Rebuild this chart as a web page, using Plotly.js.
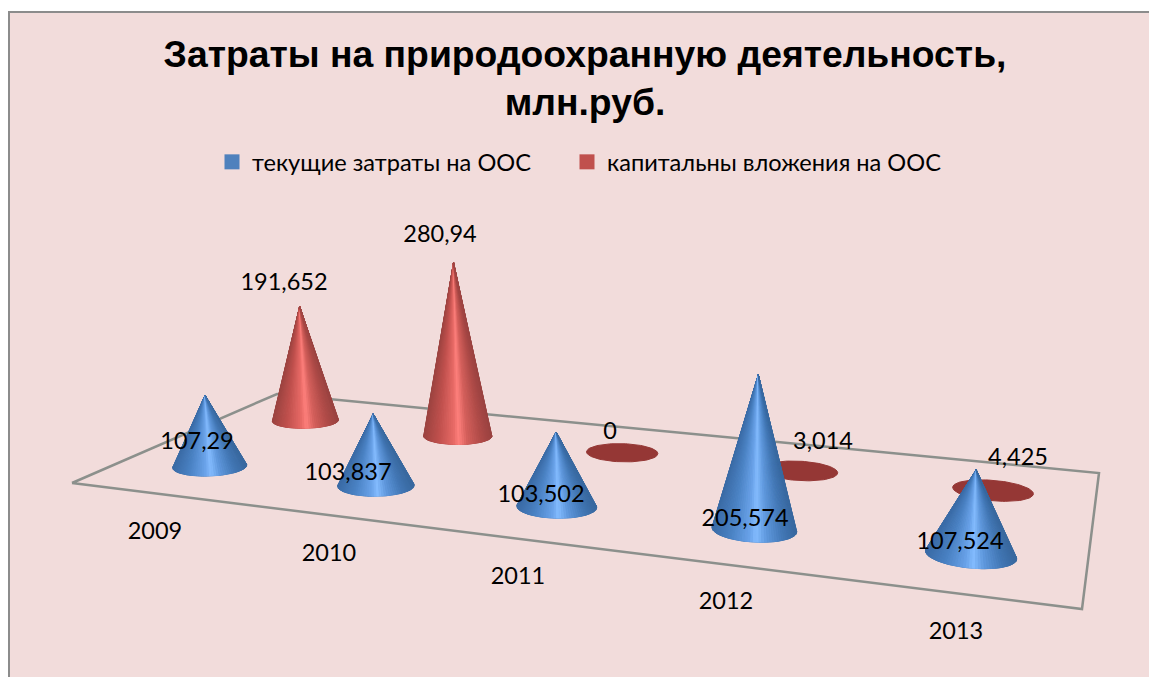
<!DOCTYPE html>
<html><head><meta charset="utf-8">
<script src="https://cdn.plot.ly/plotly-3.0.1.min.js"></script>
<style>html,body{margin:0;padding:0;background:#fff}#c{width:1149px;height:677px}</style>
</head><body><div id="c"></div>
<script>
const years = ['2009','2010','2011','2012','2013'];
const currentCosts = [107.29,103.837,103.502,205.574,107.524];
const capitalInvestments = [191.652,280.94,0,3.014,4.425];
const seriesNames = ['текущие затраты на ООС','капитальны вложения на ООС'];
const titleText = 'Затраты на природоохранную деятельность,<br>млн.руб.';

// Projection of the floor of the 3D scene (category position u, series depth v)
const Q = [[72,483],[1082,609],[1099,473],[277,394]];
const RU = 0.040, RV = 0.088, K = 0.685, VX = 600, VD = 5800;
const [x0,y0]=Q[0],[x1,y1]=Q[1],[x2,y2]=Q[2],[x3,y3]=Q[3];
const dx1=x1-x2,dx2=x3-x2,sx=x0-x1+x2-x3,dy1=y1-y2,dy2=y3-y2,sy=y0-y1+y2-y3;
const den=dx1*dy2-dx2*dy1, g=(sx*dy2-dx2*sy)/den, h=(dx1*sy-sx*dy1)/den;
const a=x1-x0+g*x1,b=x3-x0+h*x3,d=y1-y0+g*y1,e=y3-y0+h*y3;
function proj(u,v){const w=g*u+h*v+1;return {x:(a*u+b*v+x0)/w,y:(d*u+e*v+y0)/w,w};}

const palettes = [
 [[-1,'#3a6ba6'],[-0.55,'#4a82c4'],[-0.1,'#6aa3ea'],[0.05,'#84bcff'],[0.3,'#5f98dd'],[0.7,'#4277b5'],[1,'#38689f']],
 [[-1,'#9c4340'],[-0.55,'#c0504d'],[-0.1,'#e86a66'],[0.05,'#ff807c'],[0.3,'#d45f5b'],[0.7,'#b04b48'],[1,'#9a4240']]
];
const capColors = ['#38689f','#953735'];
function hex(c){return [1,3,5].map(i=>parseInt(c.substr(i,2),16));}
function shade(p,t){
  t=Math.max(-1,Math.min(1,t));
  for(let i=0;i<p.length-1;i++){ if(t<=p[i+1][0]){
    const f=(t-p[i][0])/(p[i+1][0]-p[i][0]),A=hex(p[i][1]),B=hex(p[i+1][1]);
    return 'rgb('+A.map((v,j)=>Math.round(v+(B[j]-v)*f)).join(',')+')';
  }}
  return p[p.length-1][1];
}
const traces=[];
function poly(xs,ys,col){
  traces.push({type:'scatter',mode:'lines',x:xs,y:ys,fill:'toself',fillcolor:col,
    line:{color:col,width:1},hoverinfo:'skip',showlegend:false});
}
// floor outline
const floor=[...Q,Q[0]];
traces.push({type:'scatter',mode:'lines',x:floor.map(p=>p[0]),y:floor.map(p=>p[1]),
  line:{color:'#8c908c',width:2.5},hoverinfo:'skip',showlegend:false});

function cone(i,s,val){
  const u=(i+0.5)/years.length, v=s===0?0.25:0.75, N=96;
  const c=proj(u,v), ring=[];
  for(let k=0;k<=N;k++){const t=k/N*2*Math.PI;
    ring.push(proj(u+RU*Math.cos(t),v+RV*Math.sin(t)));}
  const xs=ring.map(p=>p.x),ys=ring.map(p=>p.y);
  const cx=(Math.min(...xs)+Math.max(...xs))/2, rx=(Math.max(...xs)-Math.min(...xs))/2;
  const H=K*val/c.w, ax=c.x+(c.x-VX)*H/VD, ay=c.y-H;
  poly(xs,ys,capColors[s]);
  if(H<rx*0.3) return;
  for(let k=0;k<N;k++){
    const p=ring[k],q=ring[k+1];
    const cr=(q.x-p.x)*(ay-p.y)-(q.y-p.y)*(ax-p.x);
    if(cr>=0) continue;
    poly([ax,p.x,q.x,ax],[ay,p.y,q.y,ay],shade(palettes[s],((p.x+q.x)/2-cx)/rx));
  }
}
capitalInvestments.forEach((v,i)=>cone(i,1,v));
currentCosts.forEach((v,i)=>cone(i,0,v));

const fmt=v=>String(v).replace('.',',');
const currentLabelPos=[[197,443],[348,474],[541,496],[745,520],[960,543]];
const capitalLabelPos=[[284,284],[440,236],[610,433],[823,443],[1018,459]];
const yearLabelPos=[[155,533],[329,555],[518,578],[726,603],[956,633]];
const lf={family:'Lato, "Open Sans", sans-serif',size:23.5,color:'#000'};
function texts(pos,txt){
  traces.push({type:'scatter',mode:'text',x:pos.map(p=>p[0]),y:pos.map(p=>p[1]),text:txt,
    textposition:'middle center',textfont:lf,hoverinfo:'skip',showlegend:false,cliponaxis:false});
}
texts(capitalLabelPos,capitalInvestments.map(fmt));
texts(currentLabelPos,currentCosts.map(fmt));
texts(yearLabelPos,years);
// legend entries
['#4f81bd','#c0504d'].forEach((col,i)=>traces.push({type:'scatter',mode:'markers',x:[null],y:[null],
  name:seriesNames[i],legend:i?'legend2':'legend',marker:{symbol:'square',size:15,color:col}}));

const legendFont={family:'Lato, "Open Sans", sans-serif',size:23.6,color:'#000'};
const layout={
  width:1149,height:677,margin:{l:0,r:0,t:0,b:0},paper_bgcolor:'#fff',plot_bgcolor:'rgba(0,0,0,0)',
  xaxis:{range:[0,1149],visible:false,fixedrange:true},
  yaxis:{range:[677,0],visible:false,fixedrange:true},
  shapes:[{type:'rect',layer:'below',xref:'x',yref:'y',x0:9,y0:12,x1:1170,y1:700,
    fillcolor:'#f2dcdb',line:{color:'#8c8c8c',width:2}}],
  title:{text:titleText,x:585/1149,xanchor:'center',y:1-67/677,yanchor:'top',
    font:{family:'"Liberation Sans", Arial, sans-serif',size:37.3,color:'#000',weight:700}},
  legend:{orientation:'h',x:212/1149,xanchor:'left',y:1-162/677,yanchor:'middle',bgcolor:'rgba(0,0,0,0)',font:legendFont},
  legend2:{orientation:'h',x:567/1149,xanchor:'left',y:1-162/677,yanchor:'middle',bgcolor:'rgba(0,0,0,0)',font:legendFont},
  showlegend:true
};
Plotly.newPlot('c',traces,layout,{displayModeBar:false,staticPlot:true});
</script></body></html>
